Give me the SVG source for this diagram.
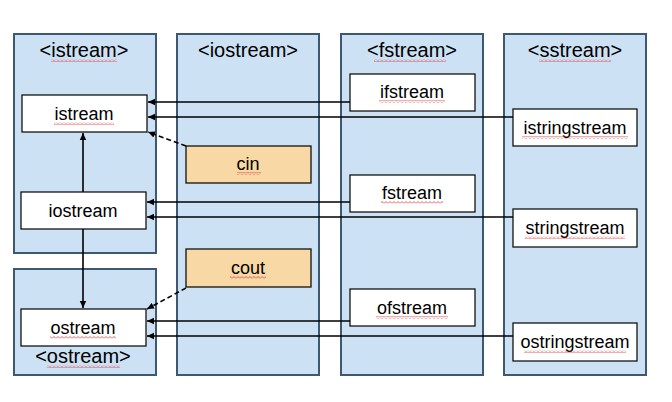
<svg xmlns="http://www.w3.org/2000/svg" width="672" height="402" viewBox="0 0 672 402">
<defs>
<style>
.panel{fill:#CCE2F4;stroke:#3F5872;stroke-width:2}
.box{fill:#FFFFFF;stroke:#000;stroke-width:1.2}
.obj{fill:#F8D8A4;stroke:#000;stroke-width:1.2}
.title{font-family:"Liberation Sans",Arial,sans-serif;font-size:20px;fill:#000;text-anchor:middle}
.lbl{font-family:"Liberation Sans",Arial,sans-serif;font-size:18px;fill:#000;text-anchor:middle}
.ln{stroke:#000;stroke-width:1.6;fill:none}
.dash{stroke:#000;stroke-width:1.6;fill:none;stroke-dasharray:5 3}
.sq{fill:url(#squig)}
</style>
<pattern id="squig" width="4" height="3" patternUnits="userSpaceOnUse">
<path d="M0 2.5 L2 0.5 L4 2.5" stroke="#E03030" stroke-width="0.8" fill="none"/>
</pattern>
<marker id="ah" markerWidth="8" markerHeight="8" refX="7" refY="4" orient="auto" markerUnits="userSpaceOnUse">
<path d="M0 0.8 L7 4 L0 7.2 Z" fill="#000"/>
</marker>
</defs>
<rect width="672" height="402" fill="#FFFFFF"/>

<g id="panel-istream"><rect class="panel" x="14" y="34" width="142" height="219"/><text class="title" x="84" y="57">&lt;istream&gt;</text><rect class="sq" x="51" y="59" width="66" height="3"/></g>
<g id="panel-ostream"><rect class="panel" x="14" y="269" width="142" height="106"/><text class="title" x="83" y="363">&lt;ostream&gt;</text><rect class="sq" x="47" y="365" width="73" height="3"/></g>
<g id="panel-iostream"><rect class="panel" x="177" y="34" width="142" height="341"/><text class="title" x="248" y="57">&lt;iostream&gt;</text></g>
<g id="panel-fstream"><rect class="panel" x="341" y="34" width="142" height="341"/><text class="title" x="412" y="57">&lt;fstream&gt;</text><rect class="sq" x="374" y="59" width="72" height="3"/></g>
<g id="panel-sstream"><rect class="panel" x="504" y="34" width="142" height="341"/><text class="title" x="575" y="57">&lt;sstream&gt;</text><rect class="sq" x="539" y="59" width="72" height="3"/></g>

<g id="istream"><rect class="box" x="22" y="95" width="125" height="37"/><text class="lbl" x="84" y="120">istream</text><rect class="sq" x="54" y="122" width="60" height="3"/></g>
<g id="iostream"><rect class="box" x="21" y="192" width="125" height="37"/><text class="lbl" x="83" y="217">iostream</text></g>
<g id="ostream"><rect class="box" x="21" y="309" width="125" height="37"/><text class="lbl" x="83" y="334">ostream</text><rect class="sq" x="50" y="336" width="66" height="3"/></g>
<g id="cin"><rect class="obj" x="186" y="146" width="125" height="37"/><text class="lbl" x="248" y="170">cin</text><rect class="sq" x="237" y="172" width="24" height="3"/></g>
<g id="cout"><rect class="obj" x="186" y="249" width="125" height="38"/><text class="lbl" x="248" y="274">cout</text><rect class="sq" x="230" y="276" width="36" height="3"/></g>
<g id="ifstream"><rect class="box" x="350" y="74" width="125" height="37"/><text class="lbl" x="412" y="98">ifstream</text><rect class="sq" x="379" y="100" width="66" height="3"/></g>
<g id="fstream"><rect class="box" x="350" y="175" width="125" height="37"/><text class="lbl" x="412" y="199">fstream</text><rect class="sq" x="381" y="201" width="62" height="3"/></g>
<g id="ofstream"><rect class="box" x="350" y="289" width="125" height="37"/><text class="lbl" x="412" y="314">ofstream</text><rect class="sq" x="376" y="316" width="72" height="3"/></g>
<g id="istringstream"><rect class="box" x="513" y="109" width="124" height="37"/><text class="lbl" x="575" y="134">istringstream</text><rect class="sq" x="522" y="136" width="106" height="3"/></g>
<g id="stringstream"><rect class="box" x="513" y="209" width="124" height="38"/><text class="lbl" x="575" y="234">stringstream</text><rect class="sq" x="525" y="236" width="100" height="3"/></g>
<g id="ostringstream"><rect class="box" x="513" y="323" width="124" height="38"/><text class="lbl" x="575" y="348">ostringstream</text><rect class="sq" x="524" y="350" width="102" height="3"/></g>

<g id="connectors">
<line class="ln" x1="350" y1="102" x2="148" y2="102" marker-end="url(#ah)"/>
<line class="ln" x1="513" y1="117" x2="148" y2="117" marker-end="url(#ah)"/>
<line class="ln" x1="350" y1="202" x2="147" y2="202" marker-end="url(#ah)"/>
<line class="ln" x1="513" y1="217" x2="147" y2="217" marker-end="url(#ah)"/>
<line class="ln" x1="350" y1="321" x2="147" y2="321" marker-end="url(#ah)"/>
<line class="ln" x1="513" y1="336" x2="147" y2="336" marker-end="url(#ah)"/>
<line class="ln" x1="83" y1="192" x2="83" y2="133" marker-end="url(#ah)"/>
<line class="ln" x1="83" y1="229" x2="83" y2="308" marker-end="url(#ah)"/>
<line class="dash" x1="186" y1="146" x2="148" y2="132" marker-end="url(#ah)"/>
<line class="dash" x1="186" y1="288" x2="147" y2="309" marker-end="url(#ah)"/>
</g>
</svg>
